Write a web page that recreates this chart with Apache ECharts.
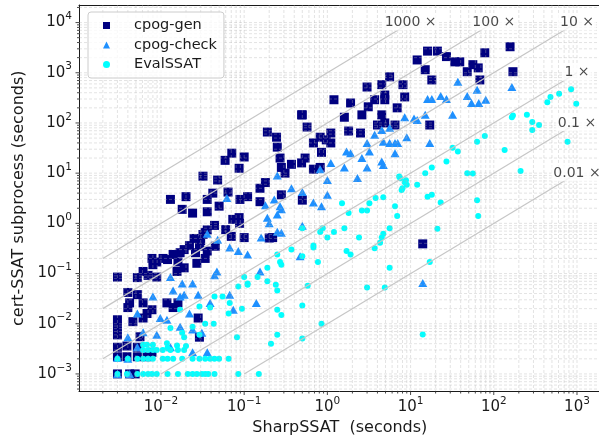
<!DOCTYPE html>
<html>
<head>
	<meta charset="utf-8" />
	<title></title>
	<script type="text/javascript" src="https://cdn.jsdelivr.net/npm/echarts@6/dist/echarts.min.js"></script>
</head>
<body style="margin:0">
	<div id="main" style="width: 599px;height:444px;"></div>
	<script>
		// cpog-gen : [SharpSSAT seconds, cert-SSAT seconds]
		var genPoints = [
			[157, 3300], [170, 1050], [16, 2700], [21, 2700], [12, 1800], [27, 2100], [34, 1650], [39, 1650], [78, 2500],
			[56, 1450], [48, 1050], [65, 1250], [15, 1150], [18, 720], [68, 720], [5.6, 830], [4.5, 580], [3, 520],
			[8.1, 580], [8.5, 330], [4.9, 360], [4.9, 290], [3.7, 290], [1.2, 290], [1.9, 250], [3.1, 210], [6.9, 200],
			[1.6, 130], [2.6, 145], [4.5, 145], [4.9, 100], [6.5, 91], [17, 91], [1.8, 69], [2.5, 63], [4, 91], [1.1, 63],
			[0.82, 52], [0.68, 40], [0.97, 46], [0.57, 83], [0.5, 145], [0.54, 20], [0.68, 12], [0.82, 13], [0.5, 2.9],
			[0.85, 26], [1.1, 40],
			[0.013, 3], [0.02, 3.4], [0.018, 1.9], [0.024, 1.6], [0.032, 8.7], [0.036, 3], [0.036, 1.7], [0.042, 4],
			[0.048, 7.3], [0.05, 2.2], [0.059, 18], [0.071, 25], [0.064, 4.2], [0.089, 3], [0.087, 12.5], [0.1, 21],
			[0.11, 3.4], [0.087, 1.3], [0.155, 5], [0.18, 6.5], [0.155, 2.7], [0.19, 66], [0.245, 52], [0.25, 33],
			[0.27, 20], [0.28, 13], [0.31, 10], [0.37, 15], [0.28, 3.7], [0.49, 145], [0.49, 16], [0.073, 1.2],
			[0.036, 0.74], [0.034, 0.66], [0.044, 0.91], [0.1, 0.52], [0.088, 1], [0.2, 0.51], [0.22, 0.52], [0.019, 0.3],
			[0.022, 0.36], [0.026, 0.26], [0.029, 0.35], [0.036, 0.28], [0.017, 0.26], [0.014, 0.24], [0.012, 0.19],
			[0.0106, 0.2], [0.0089, 0.17], [0.0078, 0.2], [0.008, 0.15], [0.0061, 0.11], [0.007, 0.092], [0.0089, 0.085],
			[0.0156, 0.11], [0.019, 0.13], [0.016, 0.17], [0.027, 0.16], [0.034, 0.2], [0.003, 0.085], [0.0052, 0.083],
			[0.004, 0.042], [0.0052, 0.038], [0.0042, 0.026], [0.004, 0.021], [0.0061, 0.026], [0.0068, 0.016],
			[0.0078, 0.019], [0.0061, 0.013], [0.003, 0.012], [0.003, 0.0087], [0.003, 0.006], [0.0046, 0.011],
			[0.0118, 0.026], [0.014, 0.021], [0.016, 0.026], [0.028, 0.013], [0.029, 0.0054], [0.003, 0.0034],
			[0.003, 0.0022], [0.003, 0.001], [0.0039, 0.0022], [0.0052, 0.0034], [0.0052, 0.0022], [0.0042, 0.001],
			[0.0049, 0.001], [0.0068, 0.0022], [0.0078, 0.0027], [0.0039, 0.0036], [0.0056, 0.0055], [14, 0.39],
			[0.025, 0.5], [0.03, 0.45], [0.032, 0.6], [0.045, 0.35], [0.06, 0.75], [0.07, 0.55]
		];
		// cpog-check
		var checkPoints = [
			[165, 520], [37, 660], [63, 460], [48, 345], [54, 250], [66, 250], [80, 290], [16, 300], [18, 300], [23, 345],
			[27, 300], [32, 145], [12, 115], [15, 145], [8.5, 130], [5.6, 80], [4.5, 72], [9, 52], [7, 40], [4.7, 42],
			[5.6, 40], [6.5, 40], [3.7, 58], [3, 40], [17, 40], [3.2, 27], [6.5, 25], [4.5, 17], [4.7, 14.5], [2.6, 20],
			[3, 13], [1.7, 27], [1.9, 25], [1.6, 13], [2.3, 8], [1, 7.3], [0.82, 12], [1.1, 16], [0.5, 4.2], [0.68, 2.6],
			[0.85, 2.2], [1, 3.7], [11, 123],
			[0.062, 3.2], [0.25, 9], [0.37, 5], [0.18, 2.3], [0.23, 3], [0.27, 2.2], [0.28, 1.9], [0.19, 1.3], [0.25, 1.5],
			[0.036, 0.62], [0.048, 0.47], [0.067, 0.33], [0.085, 0.28], [0.11, 0.24], [0.16, 0.52], [0.25, 0.68],
			[0.28, 0.65], [0.2, 1], [0.047, 0.11], [0.044, 0.092], [0.013, 0.085], [0.018, 0.063], [0.024, 0.063],
			[0.019, 0.038], [0.028, 0.038], [0.017, 0.035], [0.014, 0.046], [0.008, 0.035], [0.0052, 0.016],
			[0.0098, 0.013], [0.0118, 0.012], [0.017, 0.0087], [0.022, 0.016], [0.024, 0.0077], [0.031, 0.0066],
			[0.0089, 0.006], [0.0061, 0.0068], [0.004, 0.0054], [0.0052, 0.0034], [0.003, 0.0021], [0.013, 0.0034],
			[0.024, 0.0027], [0.036, 0.0027], [0.074, 0.019], [0.14, 0.026], [0.039, 0.026], [0.067, 0.038],
			[0.155, 0.11], [0.47, 0.22], [14, 0.065], [0.5, 0.9], [0.003, 0.001], [0.0042, 0.001], [0.004, 0.002]
		];
		// EvalSSAT
		var evalPoints = [
			[850, 470], [610, 380], [480, 330], [440, 260], [980, 240], [170, 140], [165, 130], [250, 145], [290, 105],
			[350, 91], [290, 72], [770, 42], [135, 29], [210, 11], [78, 55], [63, 42], [32, 32], [37, 27], [27, 17],
			[18, 13], [15, 10], [48, 10], [56, 9.8], [12, 5.9], [7.5, 7.9], [8.5, 6.6], [9, 5.9], [8, 5], [7.8, 4.6],
			[16, 3.4], [18, 3.7], [63, 2.9], [65, 1.4], [23, 2.6], [6.5, 2.2], [6.9, 1.4], [3.8, 3.2], [4.7, 3.3],
			[3.2, 2.5], [2.6, 1.8], [3, 1.8], [1.8, 1.6], [1.5, 2.5], [7.3, 8.6], [8.8, 7.2],
			[0.5, 0.8], [0.88, 0.8], [1, 0.52], [1.2, 0.67], [1.6, 0.8], [0.82, 0.67], [2.4, 0.52], [4.5, 0.52],
			[4.7, 0.62], [5.6, 0.8], [4.3, 0.41], [3.7, 0.32], [0.68, 0.36], [0.68, 0.33], [1.7, 0.28], [1.9, 0.24],
			[0.5, 0.22], [0.77, 0.17], [5.6, 0.13], [17, 0.17], [21, 0.78], [0.58, 0.057], [3, 0.053], [4.9, 0.053],
			[0.5, 0.023], [0.85, 0.01], [0.5, 0.0051], [14, 0.0061],
			[0.37, 0.3], [0.25, 0.24], [0.27, 0.17], [0.28, 0.15], [0.19, 0.13], [0.145, 0.085], [0.19, 0.07],
			[0.24, 0.06], [0.25, 0.046], [0.1, 0.085], [0.11, 0.063], [0.085, 0.055], [0.11, 0.06], [0.25, 0.019],
			[0.28, 0.015], [0.25, 0.006], [0.21, 0.004], [0.082, 0.0054], [0.044, 0.035], [0.055, 0.035],
			[0.067, 0.026], [0.094, 0.02], [0.065, 0.016], [0.039, 0.021], [0.029, 0.022], [0.017, 0.019],
			[0.013, 0.0082], [0.018, 0.0066], [0.019, 0.0054], [0.024, 0.0087], [0.034, 0.01], [0.029, 0.006],
			[0.043, 0.01],
			[0.0061, 0.0038], [0.0068, 0.0038], [0.008, 0.0038], [0.0118, 0.0041], [0.0156, 0.0037], [0.02, 0.0036],
			[0.012, 0.0033],
			[0.003, 0.002], [0.004, 0.002], [0.0052, 0.002], [0.0061, 0.002], [0.007, 0.002], [0.008, 0.002],
			[0.0105, 0.002], [0.012, 0.002], [0.014, 0.002], [0.018, 0.002], [0.024, 0.002], [0.029, 0.002],
			[0.034, 0.002], [0.039, 0.002], [0.044, 0.002], [0.05, 0.002], [0.065, 0.002],
			[0.0061, 0.003], [0.007, 0.003], [0.008, 0.003], [0.0089, 0.003], [0.0105, 0.003], [0.013, 0.003],
			[0.016, 0.003], [0.019, 0.003],
			[0.003, 0.001], [0.0039, 0.001], [0.0052, 0.001], [0.0061, 0.001], [0.007, 0.001], [0.0078, 0.001],
			[0.0089, 0.001], [0.012, 0.001], [0.016, 0.001], [0.021, 0.001], [0.024, 0.001], [0.027, 0.001],
			[0.031, 0.001], [0.034, 0.001], [0.037, 0.001], [0.044, 0.001], [0.085, 0.001], [0.15, 0.001]
		];

		// reference lines y = k * x
		var speedFactors = [1000, 100, 10, 1, 0.1, 0.01];
		var factorLabels = ['1000 ×', '100 ×', '10 ×', '1 ×', '0.1 ×', '0.01 ×'];
		var refXRange = [0.002, 1000];
		var refYRange = [0.001, 10000];

		// axis extents as powers of ten
		var xExp = [-2.985, 3.285];
		var yExp = [-3.35, 4.35];

		var xMin = Math.pow(10, xExp[0]), xMax = Math.pow(10, xExp[1]);
		var yMin = Math.pow(10, yExp[0]), yMax = Math.pow(10, yExp[1]);
		var gridColor = 'rgba(176,176,176,0.45)';
		var inkColor = '#1a1a1a';
		var font = 'DejaVu Sans';

		var tickRich = {
			b: { fontSize: 15, lineHeight: 23, color: inkColor, fontFamily: font },
			s: { fontSize: 10.5, lineHeight: 11, verticalAlign: 'top', color: inkColor, fontFamily: font }
		};

		function tickLabel(v) {
			var l = Math.log10(v);
			if (Math.abs(l - Math.round(l)) > 0.01) return '';
			var e = Math.round(l);
			return '{b|10}{s|' + (e < 0 ? '\u2212' + (-e) : e) + '}';
		}

		function tickValues(e0, e1) {
			var list = [];
			for (var e = Math.floor(e0); e <= Math.ceil(e1); e++) {
				for (var m = 1; m <= 9; m++) {
					var v = m * Math.pow(10, e);
					var l = Math.log10(v);
					if (l >= e0 && l <= e1) list.push([v, m === 1 ? 0 : 1]);
				}
			}
			return list;
		}

		var vLines = tickValues(xExp[0], xExp[1]).map(function (t) { return [t[0], yMin, t[1]]; });
		var hLines = tickValues(yExp[0], yExp[1]).map(function (t) { return [xMin, t[0], t[1]]; });

		function renderV(params, api) {
			var cs = params.coordSys;
			var x = api.coord([api.value(0), yMin])[0];
			var bottom = cs.y + cs.height;
			var len = api.value(2) ? 2 : 3.5;
			return {
				type: 'group',
				children: [
					{ type: 'line', shape: { x1: x, y1: cs.y, x2: x, y2: bottom }, style: { stroke: gridColor, lineWidth: 0.8, lineDash: [3, 2] } },
					{ type: 'line', shape: { x1: x, y1: bottom, x2: x, y2: bottom + len }, style: { stroke: inkColor, lineWidth: 0.8 } }
				]
			};
		}

		function renderH(params, api) {
			var cs = params.coordSys;
			var y = api.coord([xMin, api.value(1)])[1];
			var len = api.value(2) ? 2 : 3.5;
			return {
				type: 'group',
				children: [
					{ type: 'line', shape: { x1: cs.x, y1: y, x2: cs.x + cs.width, y2: y }, style: { stroke: gridColor, lineWidth: 0.8, lineDash: [3, 2] } },
					{ type: 'line', shape: { x1: cs.x - len, y1: y, x2: cs.x, y2: y }, style: { stroke: inkColor, lineWidth: 0.8 } }
				]
			};
		}

		var series = [
			{
				name: 'cpog-gen', type: 'scatter', data: genPoints, symbol: 'rect', symbolSize: 9,
				itemStyle: { color: '#000080', opacity: 1 }, z: 2
			},
			{
				name: 'cpog-check', type: 'scatter', data: checkPoints, symbol: 'triangle', symbolSize: [9, 8],
				itemStyle: { color: '#1e90ff', opacity: 1 }, z: 2
			},
			{
				name: 'EvalSSAT', type: 'scatter', data: evalPoints, symbol: 'circle', symbolSize: 6,
				itemStyle: { color: '#00ffff', opacity: 1 }, z: 2
			},
			{
				type: 'custom', renderItem: renderV, data: vLines, dimensions: ['x', 'y', 'minor'],
				encode: { x: 0, y: 1 }, clip: false, silent: true, z: 3
			},
			{
				type: 'custom', renderItem: renderH, data: hLines, dimensions: ['x', 'y', 'minor'],
				encode: { x: 0, y: 1 }, clip: false, silent: true, z: 3
			}
		];

		var labelData = [];
		speedFactors.forEach(function (k, i) {
			var x0 = Math.max(refXRange[0], refYRange[0] / k);
			var x1 = Math.min(refXRange[1], refYRange[1] / k);
			series.push({
				type: 'line', data: [[x0, k * x0], [x1, k * x1]], symbol: 'none', silent: true,
				lineStyle: { color: '#c6c6c6', width: 1.2 }, z: 4
			});
			labelData.push({ value: [x1, k * x1], name: factorLabels[i] });
		});
		series.push({
			type: 'scatter', data: labelData, symbolSize: 0, silent: true, z: 5,
			label: {
				show: true, position: 'inside', formatter: '{b}', fontSize: 14, color: inkColor, fontFamily: font,
				backgroundColor: '#ffffff', padding: [1, 2]
			}
		});

		var myChart = echarts.init(document.getElementById('main'));
		var option = {
			animation: false,
			textStyle: { fontFamily: font },
			grid: { left: 79, top: 5, width: 521.7, height: 386.5, containLabel: false, outerBoundsMode: 'none' },
			legend: {
				data: ['cpog-gen', 'cpog-check', 'EvalSSAT'],
				orient: 'vertical', left: 88, top: 12,
				padding: [6, 7, 6, 15], itemWidth: 7, itemHeight: 7, itemGap: 4.5,
				backgroundColor: 'rgba(255,255,255,0.8)', borderColor: '#cccccc', borderWidth: 1, borderRadius: 3,
				formatter: function (name) { return '{t|' + name + '}'; },
				textStyle: {
					fontSize: 14.5, color: inkColor, fontFamily: font,
					rich: { t: { fontSize: 14.5, color: inkColor, lineHeight: 16, padding: [0, 0, 0, 19], fontFamily: font } }
				}
			},
			xAxis: [{
				type: 'log', min: xMin, max: xMax, position: 'bottom',
				name: 'SharpSSAT  (seconds)', nameLocation: 'middle', nameGap: 27,
				nameTextStyle: { fontSize: 16, color: inkColor, fontFamily: font },
				axisLine: { onZero: false, lineStyle: { color: inkColor, width: 1 } },
				axisTick: { show: false }, splitLine: { show: false }, minorTick: { show: false },
				axisLabel: { formatter: tickLabel, rich: tickRich, margin: 4, fontFamily: font }
			}, {
				type: 'log', min: xMin, max: xMax, position: 'top',
				axisLine: { onZero: false, lineStyle: { color: inkColor, width: 1 } },
				axisTick: { show: false }, axisLabel: { show: false }, splitLine: { show: false }
			}],
			yAxis: {
				type: 'log', min: yMin, max: yMax,
				name: 'cert-SSAT subprocess (seconds)', nameLocation: 'middle', nameGap: 46,
				nameTextStyle: { fontSize: 16, color: inkColor, fontFamily: font },
				axisLine: { onZero: false, lineStyle: { color: inkColor, width: 1 } },
				axisTick: { show: false }, splitLine: { show: false }, minorTick: { show: false },
				axisLabel: { formatter: tickLabel, rich: tickRich, margin: 7, fontFamily: font }
			},
			series: series
		};
		myChart.setOption(option);
	</script>
</body>
</html>
